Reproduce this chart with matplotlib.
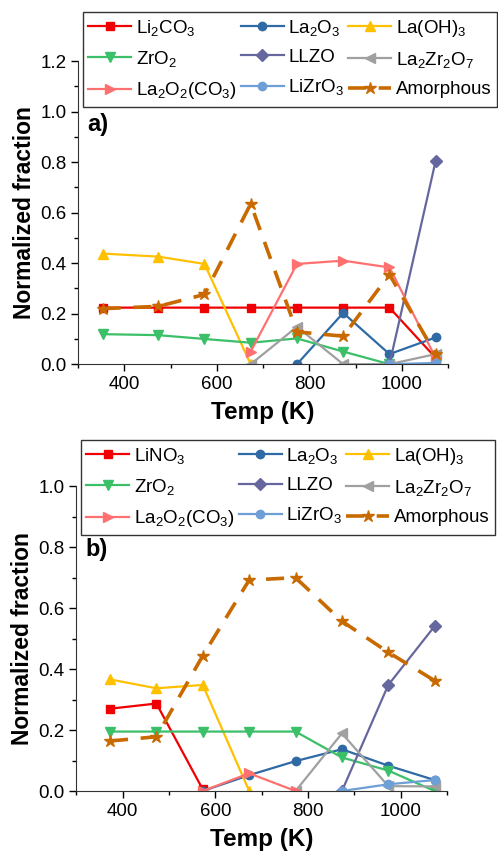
''' Normalized phase fractions vs temperature, two panels '''
import numpy as np
import matplotlib
matplotlib.use('Agg')
import matplotlib.pyplot as plt
from matplotlib.ticker import MultipleLocator

plt.rcParams['font.family'] = ['Liberation Sans', 'DejaVu Sans']
plt.rcParams['mathtext.fontset'] = 'custom'
plt.rcParams['mathtext.rm'] = 'Liberation Sans'
plt.rcParams['mathtext.it'] = 'Liberation Sans:italic'
plt.rcParams['mathtext.bf'] = 'Liberation Sans:bold'

nan = np.nan

# panel a)
temp_a = [353, 473, 573, 673, 773, 873, 973, 1073]
li2co3_a = [0.224, 0.224, 0.224, 0.224, 0.224, 0.224, 0.224, 0.025]
la2o3_a = [nan, nan, nan, nan, 0.0, 0.203, 0.04, 0.106]
laoh3_a = [0.438, 0.426, 0.397, 0.0, nan, nan, nan, nan]
zro2_a = [0.119, 0.115, 0.10, 0.085, 0.102, 0.05, 0.0, 0.0]
llzo_a = [nan, nan, nan, nan, nan, nan, 0.0, 0.806]
la2zr2o7_a = [nan, nan, nan, 0.0, 0.148, 0.0, 0.0, 0.04]
la2o2co3_a = [nan, nan, nan, 0.05, 0.397, 0.41, 0.383, 0.025]
lizro3_a = [nan, nan, nan, nan, nan, nan, 0.0, 0.005]
amorph_a = [0.22, 0.229, 0.276, 0.635, 0.128, 0.111, 0.355, 0.04]

# panel b)
temp_b = [373, 473, 573, 673, 773, 873, 973, 1073]
lino3_b = [0.27, 0.287, 0.005, nan, nan, nan, nan, nan]
la2o3_b = [nan, nan, 0.0, 0.052, 0.098, 0.137, 0.083, 0.036]
laoh3_b = [0.366, 0.337, 0.348, 0.0, nan, nan, nan, nan]
zro2_b = [0.195, 0.195, 0.195, 0.195, 0.195, 0.11, 0.067, 0.0]
llzo_b = [nan, nan, nan, nan, nan, 0.0, 0.348, 0.541]
la2zr2o7_b = [nan, nan, nan, nan, 0.0, 0.189, 0.016, 0.015]
la2o2co3_b = [nan, nan, 0.0, 0.058, 0.0, nan, nan, nan]
lizro3_b = [nan, nan, nan, nan, nan, 0.0, 0.022, 0.036]
amorph_b = [0.164, 0.178, 0.444, 0.692, 0.70, 0.557, 0.455, 0.362]

S2 = '$_\\mathregular{2}$'
S3 = '$_\\mathregular{3}$'
S7 = '$_\\mathregular{7}$'

# style per phase (colour, marker)
STYLES = [
    ('#f00000', 's'),
    ('#2f6aa5', 'o'),
    ('#ffc000', '^'),
    ('#3bbf68', 'v'),
    ('#67679f', 'D'),
    ('#a0a0a0', '<'),
    ('#ff7070', '>'),
    ('#6d9fd6', 'o'),
    ('#c86a00', '*'),
]


def panel(ax, temps, series, labels, tag, ytop, legend_y):
    ''' draw one panel '''
    handles = []
    for values, label, (color, marker) in zip(series, labels, STYLES):
        if label == 'Amorphous':
            h, = ax.plot(temps, values, color=color, marker=marker, ms=9,
                         lw=2.6, dashes=(5, 3.5), label=label, zorder=3)
        else:
            ms = 6 if marker in 'soD' else 7.5
            h, = ax.plot(temps, values, color=color, marker=marker, ms=ms,
                         lw=1.6, label=label, zorder=2)
        handles.append(h)

    ax.set_xlim(300, 1100)
    ax.set_ylim(0, ytop)
    ax.xaxis.set_major_locator(MultipleLocator(200))
    ax.xaxis.set_minor_locator(MultipleLocator(100))
    ax.yaxis.set_major_locator(MultipleLocator(0.2))
    ax.yaxis.set_minor_locator(MultipleLocator(0.1))
    ax.yaxis.set_major_formatter(plt.FormatStrFormatter('%.1f'))
    ax.tick_params(which='both', direction='out', labelsize=13.5, width=1)
    ax.tick_params(which='major', length=5)
    ax.tick_params(which='minor', length=3)
    ax.spines['top'].set_visible(False)
    ax.spines['right'].set_visible(False)
    for side in ('left', 'bottom'):
        ax.spines[side].set_color('#333333')
    ax.set_xlabel('Temp (K)', fontsize=17.5, fontweight='bold', labelpad=6)
    ax.set_ylabel('Normalized fraction', fontsize=16.5, fontweight='bold',
                  labelpad=3)
    ax.text(0.025, 0.83, tag, transform=ax.transAxes, fontsize=17,
            fontweight='bold', va='top', ha='left')

    # legend reads row-wise in the original, matplotlib fills columns
    order = [0, 3, 6, 1, 4, 7, 2, 5, 8]
    leg = ax.legend([handles[i] for i in order], [labels[i] for i in order],
                    ncol=3, loc='upper left', bbox_to_anchor=(0.012, legend_y),
                    fontsize=13.5, handlelength=2.3, handletextpad=0.25,
                    columnspacing=0.2, labelspacing=0.6, borderpad=0.3,
                    borderaxespad=0, fancybox=False, framealpha=1)
    leg.get_frame().set_edgecolor('#333333')
    leg.get_frame().set_linewidth(1)
    leg.set_clip_on(False)


def execute():
    ''' build both panels and save '''
    fig = plt.figure(figsize=(4.98, 8.61), dpi=100)
    ax_a = fig.add_axes([0.157, 0.577, 0.743, 0.352])
    ax_b = fig.add_axes([0.153, 0.0813, 0.745, 0.354])

    labels_a = ['Li' + S2 + 'CO' + S3, 'La' + S2 + 'O' + S3, 'La(OH)' + S3,
                'ZrO' + S2, 'LLZO', 'La' + S2 + 'Zr' + S2 + 'O' + S7,
                'La' + S2 + 'O' + S2 + '(CO' + S3 + ')', 'LiZrO' + S3,
                'Amorphous']
    labels_b = ['LiNO' + S3] + labels_a[1:]

    panel(ax_a, temp_a, [li2co3_a, la2o3_a, laoh3_a, zro2_a, llzo_a,
                         la2zr2o7_a, la2o2co3_a, lizro3_a, amorph_a],
          labels_a, 'a)', 1.2, 1.162)
    panel(ax_b, temp_b, [lino3_b, la2o3_b, laoh3_b, zro2_b, llzo_b,
                         la2zr2o7_b, la2o2co3_b, lizro3_b, amorph_b],
          labels_b, 'b)', 1.0, 1.151)

    fig.savefig('out.png', dpi=100)


execute()
